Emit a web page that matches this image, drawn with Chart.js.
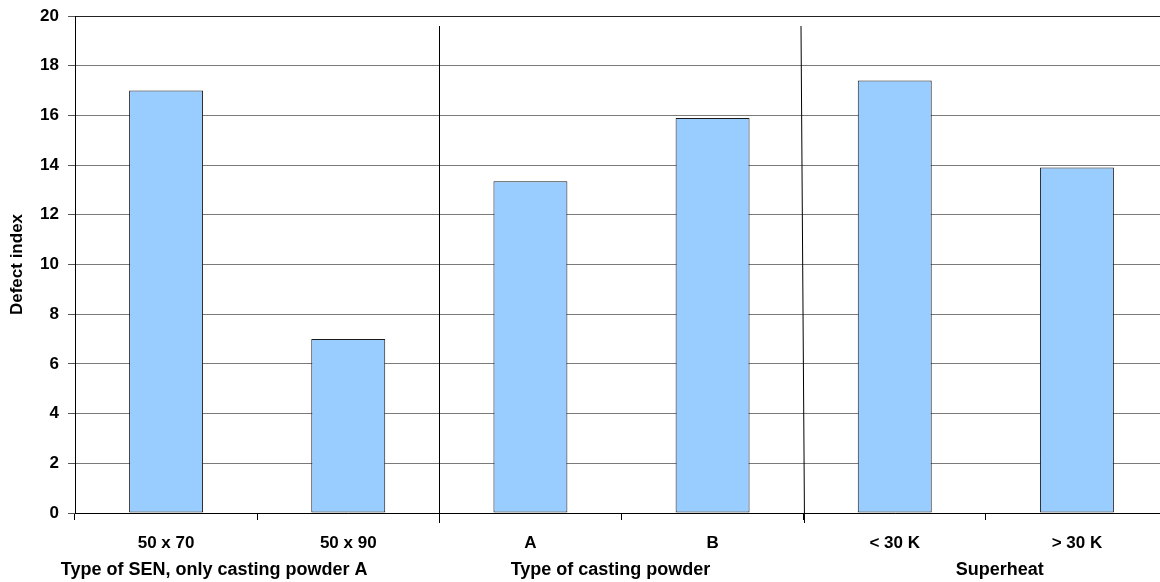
<!DOCTYPE html>
<html>
<head>
<meta charset="utf-8">
<script src="https://cdn.jsdelivr.net/npm/chart.js@4/dist/chart.umd.min.js"></script>
<style>
  html, body { margin: 0; padding: 0; background: #fff; overflow: hidden; }
  #wrap { width: 1160px; height: 582px; overflow: hidden; }
  canvas { display: block; }
</style>
</head>
<body>
<div id="wrap"><canvas id="c" width="1180" height="582"></canvas></div>
<script>
// Categories, grouped in pairs
const categories = ['50 x 70', '50 x 90', 'A', 'B', '< 30 K', '> 30 K'];
const groupLabels = ['Type of SEN, only casting powder A', 'Type of casting powder', 'Superheat'];
const defectIndex = [17.0, 7.0, 13.35, 15.9, 17.4, 13.9];
const yTickValues = [0, 2, 4, 6, 8, 10, 12, 14, 16, 18, 20];
const yTitle = 'Defect index';

const FONT = '"Liberation Sans", Arial, sans-serif';

// Separators between groups, group captions and the rotated axis title
const groupPlugin = {
  id: 'groups',
  afterDraw(chart, args, opts) {
    const ctx = chart.ctx;
    const x = chart.scales.x;
    const area = chart.chartArea;
    const half = (x.getPixelForValue(1) - x.getPixelForValue(0)) / 2;
    ctx.save();
    // vertical separators between groups (hand-drawn, the second one leans slightly)
    ctx.strokeStyle = '#000';
    ctx.lineWidth = 1;
    for (let g = 1; g < groupLabels.length; g++) {
      const px = Math.round(x.getPixelForValue(g * 2) - half) + 0.5;
      ctx.beginPath();
      ctx.moveTo(px + opts.lean[g - 1], area.top + 10);
      ctx.lineTo(px, area.bottom + 10);
      ctx.stroke();
    }
    // group captions
    ctx.fillStyle = '#000';
    ctx.font = 'bold 18px ' + FONT;
    ctx.textAlign = 'center';
    ctx.textBaseline = 'middle';
    groupLabels.forEach((lbl, g) => {
      const cx = (x.getPixelForValue(g * 2) + x.getPixelForValue(g * 2 + 1)) / 2 + opts.shift[g];
      ctx.fillText(lbl, cx, area.bottom + 57);
    });
    // y axis title
    ctx.translate(17, (area.top + area.bottom) / 2);
    ctx.rotate(-Math.PI / 2);
    ctx.font = 'bold 17px ' + FONT;
    ctx.fillText(yTitle, 0, 0);
    ctx.restore();
  }
};

new Chart(document.getElementById('c'), {
  type: 'bar',
  data: {
    labels: categories,
    datasets: [{
      data: defectIndex,
      backgroundColor: '#99CCFF',
      borderColor: '#1a1a1a',
      borderWidth: 1,
      borderSkipped: false,
      categoryPercentage: 1.0,
      barPercentage: 0.406
    }]
  },
  options: {
    responsive: false,
    animation: false,
    devicePixelRatio: 1,
    layout: { padding: { top: 16, right: 12, left: 0, bottom: 0 } },
    plugins: {
      legend: { display: false },
      tooltip: { enabled: false },
      groups: { shift: [-43, -11, 14], lean: [0, -3.5] }
    },
    scales: {
      x: {
        offset: true,
        grid: {
          offset: true,
          drawOnChartArea: false,
          drawTicks: true,
          tickLength: 7,
          color: '#000'
        },
        border: { color: '#000', width: 1 },
        ticks: {
          color: '#000',
          font: { family: FONT, size: 17, weight: 'bold' },
          padding: 13,
          maxRotation: 0,
          autoSkip: false
        },
        afterFit(scale) { scale.height = 69; }
      },
      y: {
        min: 0,
        max: 20,
        afterBuildTicks(scale) { scale.ticks = yTickValues.map(v => ({ value: v })); },
        grid: {
          color: ctx => (ctx.tick && ctx.tick.value === 20 ? '#222' : '#7a7a7a'),
          tickColor: '#555',
          tickLength: 7,
          drawTicks: true
        },
        border: { color: '#000', width: 1 },
        ticks: {
          color: '#000',
          font: { family: FONT, size: 17, weight: 'bold' },
          padding: 9
        },
        afterFit(scale) {
          scale.width = 75;
          scale.paddingTop = 0;
          scale.paddingBottom = 0;
        }
      }
    }
  },
  plugins: [groupPlugin]
});
</script>
</body>
</html>
